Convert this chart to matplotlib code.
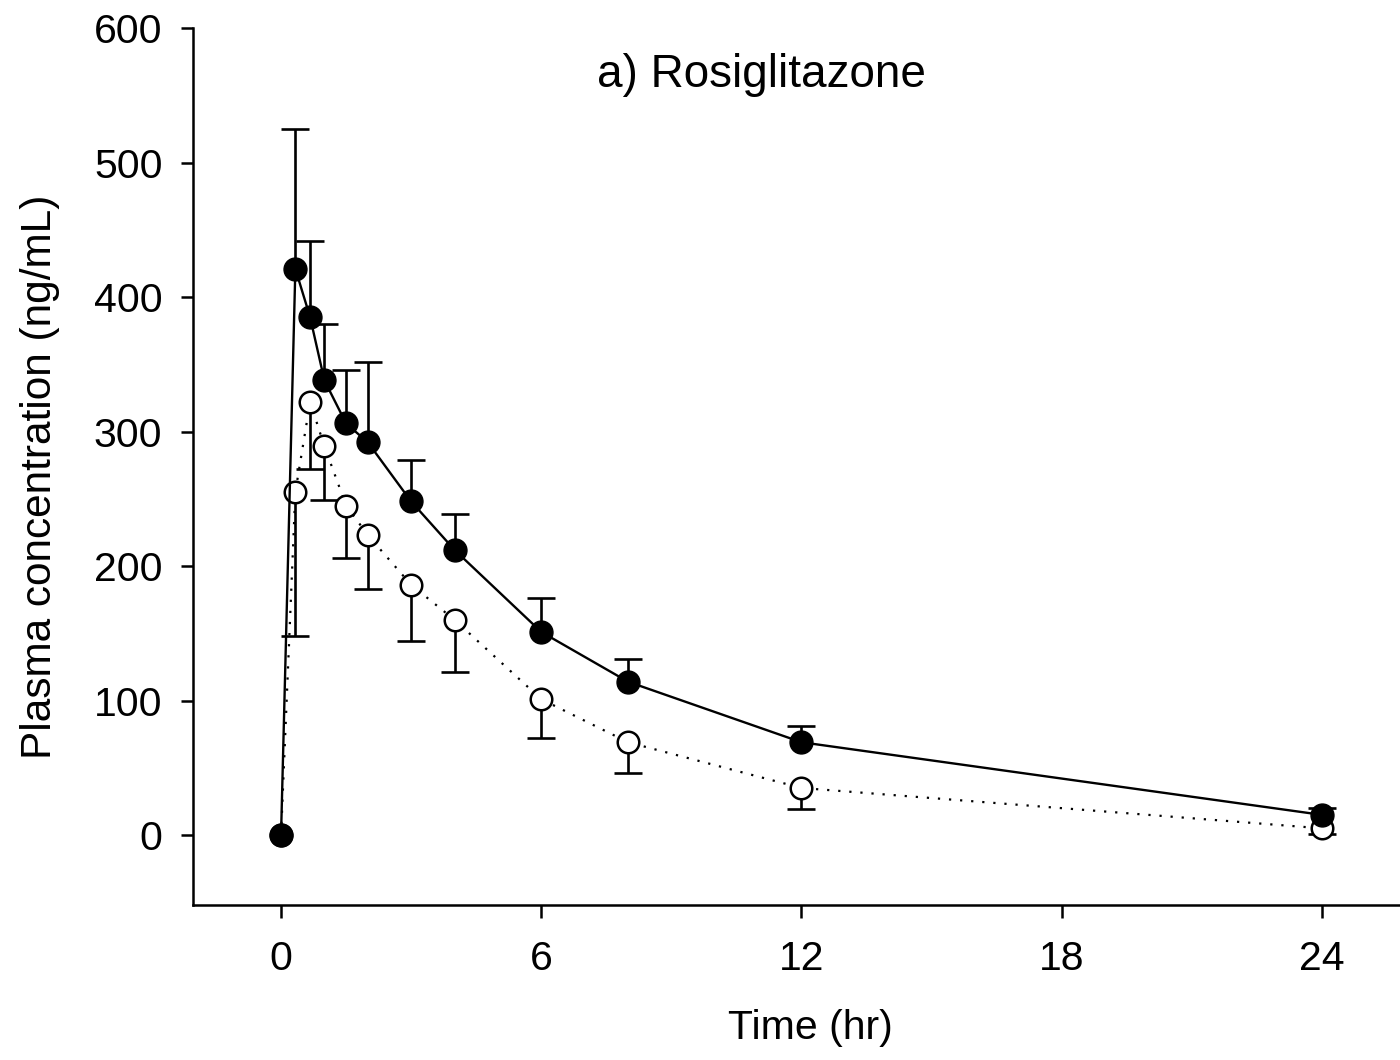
import matplotlib
matplotlib.use("Agg")
import matplotlib.pyplot as plt
import numpy as np

plt.rcParams['font.family'] = ['Liberation Sans', 'DejaVu Sans']

time_hr = [0, 0.33, 0.67, 1, 1.5, 2, 3, 4, 6, 8, 12, 24]
filled_mean = [0, 421, 385, 338, 306, 292, 248, 212, 151, 114, 69, 15]
filled_sd = [0, 104, 57, 42, 40, 60, 31, 27, 25, 17, 12, 5]
open_mean = [0, 255, 322, 289, 245, 223, 186, 160, 101, 69, 35, 5]
open_sd = [0, 107, 50, 40, 39, 40, 42, 39, 29, 23, 16, 4]

xticks = [0, 6, 12, 18, 24]
yticks = [0, 100, 200, 300, 400, 500, 600]

fig = plt.figure(figsize=(14, 10.6), dpi=100)
ax = fig.add_axes([193/1400, 1-905/1060, 1-193/1400, (905-28)/1060])

t = np.array(time_hr, dtype=float)
fm, fs = np.array(filled_mean, float), np.array(filled_sd, float)
om, osd = np.array(open_mean, float), np.array(open_sd, float)

cap_ms = 19.5  # cap width in points
elw = 1.9

# open series: lower error bars only
mask_o = osd > 0
ax.vlines(t[mask_o], om[mask_o] - osd[mask_o], om[mask_o], color='black', lw=elw, zorder=2)
ax.plot(t[mask_o], om[mask_o] - osd[mask_o], linestyle='none', marker='_',
        markersize=cap_ms, markeredgewidth=elw, color='black', zorder=2)
ax.plot(t, om, linestyle=(0, (1, 4)), color='black', lw=1.6,
        marker='o', markersize=15.5, markerfacecolor='white',
        markeredgecolor='black', markeredgewidth=1.8, zorder=3)

# filled series: upper error bars only
mask_f = fs > 0
ax.vlines(t[mask_f], fm[mask_f], fm[mask_f] + fs[mask_f], color='black', lw=elw, zorder=4)
ax.plot(t[mask_f], fm[mask_f] + fs[mask_f], linestyle='none', marker='_',
        markersize=cap_ms, markeredgewidth=elw, color='black', zorder=4)
ax.plot(t, fm, linestyle='-', color='black', lw=1.7,
        marker='o', markersize=16.5, markerfacecolor='black',
        markeredgecolor='black', markeredgewidth=1, zorder=5)

ax.set_xlim(-2.03, 25.8)
ax.set_ylim(-52, 600)
ax.set_xticks(xticks)
ax.set_yticks(yticks)
for s in ['top', 'right']:
    ax.spines[s].set_visible(False)
for s in ['left', 'bottom']:
    ax.spines[s].set_linewidth(1.8)
ax.tick_params(axis='both', direction='out', length=9, width=1.8, labelsize=29.5)
ax.tick_params(axis='y', pad=13)
ax.tick_params(axis='x', pad=16)

fig.text(761/1400, 1-75/1060, 'a) Rosiglitazone', ha='center', va='center', fontsize=33)
fig.text(810/1400, 1-1028/1060, 'Time (hr)', ha='center', va='center', fontsize=29.5)
fig.text(40/1400, 1-477/1060, 'Plasma concentration (ng/mL)', ha='center', va='center',
         rotation=90, fontsize=30.5)

fig.savefig('out.png', dpi=100)
